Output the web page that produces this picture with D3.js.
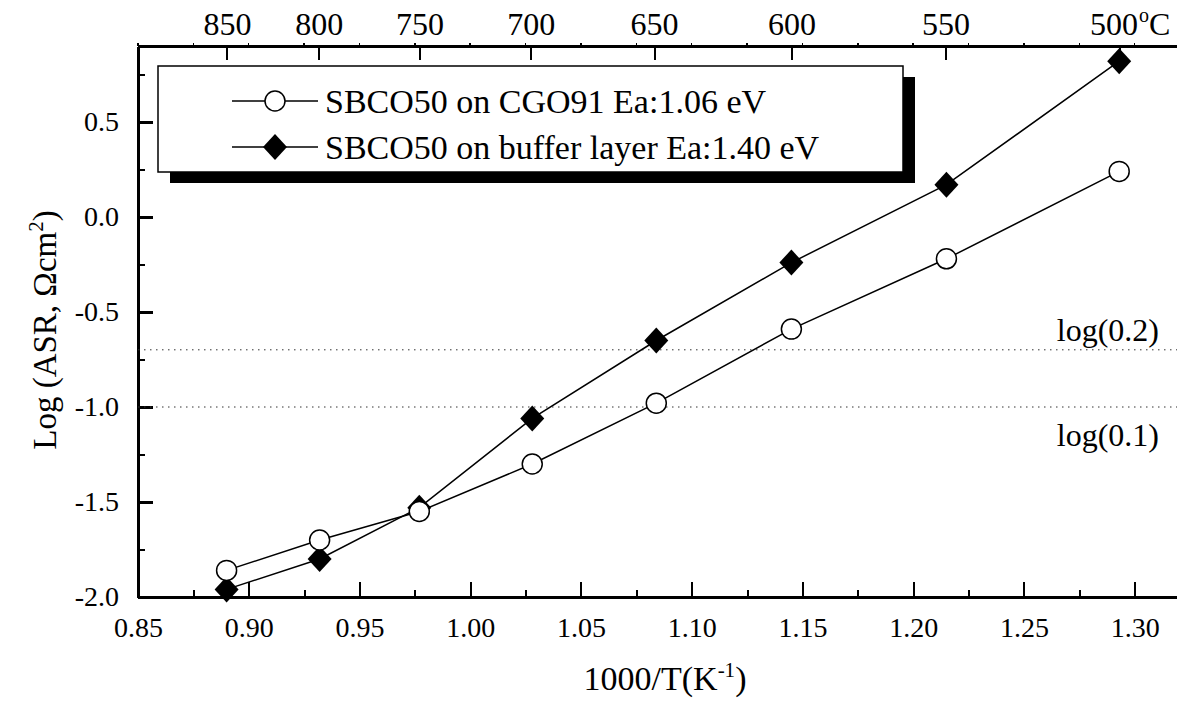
<!DOCTYPE html>
<html lang="en">
<head>
<meta charset="utf-8">
<title>ASR Arrhenius plot</title>
<style>
body{
  margin: 0;
  background: #fff;
}
svg text{
  font-family: "Liberation Serif", "Times New Roman", serif;
  fill: #000;
}
.axis path, .axis line{
  fill: none;
  stroke: #000;
  shape-rendering: crispEdges;
}
</style>
<script src="https://cdn.jsdelivr.net/npm/d3@7/dist/d3.min.js"></script>
</head>
<body>
<div id="chart"></div>

<script>
// data
var xVals = [0.890, 0.932, 0.977, 1.028, 1.084, 1.145, 1.215, 1.293];
var cgoVals = [-1.86, -1.70, -1.55, -1.30, -0.98, -0.59, -0.22, 0.24];
var bufferVals = [-1.96, -1.80, -1.53, -1.06, -0.65, -0.24, 0.17, 0.82];
var seriesNames = ['SBCO50 on CGO91 Ea:1.06 eV', 'SBCO50 on buffer layer Ea:1.40 eV'];

var xTicks = [0.85, 0.90, 0.95, 1.00, 1.05, 1.10, 1.15, 1.20, 1.25, 1.30];
var yTicks = [-2.0, -1.5, -1.0, -0.5, 0.0, 0.5];
var tempTicks = [850, 800, 750, 700, 650, 600, 550, 500];
var refLines = [Math.log10(0.2), Math.log10(0.1)];
var refLabels = ['log(0.2)', 'log(0.1)'];

var W = 1177, H = 707;
var margin = { top: 46, right: 0, bottom: 110, left: 138 };
var width = W - margin.left - margin.right,
    height = H - margin.top - margin.bottom;

var xScale = d3.scaleLinear().domain([0.85, 1.3191]).range([0, width]);
var yScale = d3.scaleLinear().domain([-2.0, 0.9]).range([height, 0]);

var fmtY = function(d) { return d3.format('.1f')(d).replace('\u2212', '-'); };

var svg = d3.select('#chart').append('svg')
  .attr('width', W)
  .attr('height', H);

var graph = svg.append('g')
  .attr('transform', 'translate(' + margin.left + ',' + margin.top + ')');

// minor ticks (between majors)
var xMinor = xTicks.map(function(d) { return d + 0.025; }).filter(function(d) { return d < 1.319; });
var yMinor = yTicks.map(function(d) { return d + 0.25; });

// bottom axis
graph.append('g')
  .attr('class', 'axis')
  .attr('transform', 'translate(0,' + height + ')')
  .call(d3.axisBottom(xScale).tickValues(xMinor).tickSize(-7).tickSizeOuter(0).tickFormat(''))
  .call(function(g) { g.select('.domain').remove(); g.selectAll('line').attr('stroke-width', 2); });

graph.append('g')
  .attr('class', 'axis')
  .attr('transform', 'translate(0,' + height + ')')
  .call(d3.axisBottom(xScale).tickValues(xTicks).tickSize(-15).tickSizeOuter(0).tickPadding(20)
    .tickFormat(d3.format('.2f')))
  .call(function(g) {
    g.select('.domain').attr('stroke-width', 3);
    g.selectAll('line').attr('stroke-width', 2);
    g.selectAll('text').style('font-size', '28px').attr('font-family', null);
  });

// left axis
graph.append('g')
  .attr('class', 'axis')
  .call(d3.axisLeft(yScale).tickValues(yMinor).tickSize(-7).tickSizeOuter(0).tickFormat(''))
  .call(function(g) { g.select('.domain').remove(); g.selectAll('line').attr('stroke-width', 2.5); });

graph.append('g')
  .attr('class', 'axis')
  .call(d3.axisLeft(yScale).tickValues(yTicks).tickSize(-15).tickSizeOuter(0).tickPadding(19)
    .tickFormat(fmtY))
  .call(function(g) {
    g.select('.domain').attr('stroke-width', 3);
    g.selectAll('line').attr('stroke-width', 2.5);
    g.selectAll('text').style('font-size', '28px').attr('font-family', null);
  });

// top axis: temperature in degrees C, placed at 1000/T(K)
function tPos(t) { return xScale(1000 / (t + 273.15)); }

var topAxis = graph.append('g').attr('class', 'axis');
topAxis.append('line')
  .attr('x1', 0).attr('x2', width).attr('y1', 0).attr('y2', 0)
  .attr('stroke-width', 3);
topAxis.selectAll('.outer')
  .data(xTicks.concat(xMinor))
  .enter().append('line')
  .attr('x1', function(d) { return xScale(d); })
  .attr('x2', function(d) { return xScale(d); })
  .attr('y1', 0).attr('y2', -3)
  .attr('stroke-width', 1.5);
topAxis.selectAll('.temp')
  .data(tempTicks)
  .enter().append('line')
  .attr('x1', tPos).attr('x2', tPos)
  .attr('y1', 0).attr('y2', 14)
  .attr('stroke-width', 2);
topAxis.selectAll('text')
  .data(tempTicks)
  .enter().append('text')
  .attr('x', function(d) { return tPos(d) - (d == 500 ? 6 : 0); })
  .attr('y', -11)
  .attr('text-anchor', 'middle')
  .style('font-size', '32px')
  .text(function(d) { return d; });
topAxis.append('text')
  .attr('x', tPos(500) + 19)
  .attr('y', -11)
  .style('font-size', '32px')
  .call(function(t) {
    t.append('tspan').attr('dy', -13).style('font-size', '20px').text('o');
    t.append('tspan').attr('dy', 13).text('C');
  });

// reference lines
graph.selectAll('.ref')
  .data(refLines)
  .enter().append('line')
  .attr('x1', 0).attr('x2', width)
  .attr('y1', function(d) { return yScale(d); })
  .attr('y2', function(d) { return yScale(d); })
  .attr('stroke', '#333')
  .attr('stroke-width', 1)
  .attr('stroke-dasharray', '1.5,4.5');

graph.selectAll('.reflabel')
  .data(refLabels)
  .enter().append('text')
  .attr('x', width - 18)
  .attr('y', function(d, i) { return yScale(refLines[i]) + (i == 0 ? -9 : 39); })
  .attr('text-anchor', 'end')
  .style('font-size', '32px')
  .text(function(d) { return d; });

// series
var line = d3.line()
  .x(function(d) { return xScale(d[0]); })
  .y(function(d) { return yScale(d[1]); });

var cgo = xVals.map(function(x, i) { return [x, cgoVals[i]]; });
var buf = xVals.map(function(x, i) { return [x, bufferVals[i]]; });

graph.append('path').datum(cgo).attr('d', line)
  .attr('fill', 'none').attr('stroke', '#000').attr('stroke-width', 1.5);
graph.append('path').datum(buf).attr('d', line)
  .attr('fill', 'none').attr('stroke', '#000').attr('stroke-width', 1.5);

var diamond = 'M0,-13L12,0L0,13L-12,0Z';

graph.selectAll('.dia')
  .data(buf)
  .enter().append('path')
  .attr('d', diamond)
  .attr('transform', function(d) { return 'translate(' + xScale(d[0]) + ',' + yScale(d[1]) + ')'; })
  .attr('fill', '#000');

graph.selectAll('.circ')
  .data(cgo)
  .enter().append('circle')
  .attr('cx', function(d) { return xScale(d[0]); })
  .attr('cy', function(d) { return yScale(d[1]); })
  .attr('r', 10)
  .attr('fill', '#fff')
  .attr('stroke', '#000')
  .attr('stroke-width', 1.5);

// legend
var lg = svg.append('g');
lg.append('rect')
  .attr('x', 170).attr('y', 77).attr('width', 745).attr('height', 106)
  .attr('fill', '#000');
lg.append('rect')
  .attr('x', 158).attr('y', 66).attr('width', 745).attr('height', 106)
  .attr('fill', '#fff').attr('stroke', '#000').attr('stroke-width', 1.5);

var rows = [101, 147];
rows.forEach(function(ry, i) {
  lg.append('line')
    .attr('x1', 232).attr('x2', 318).attr('y1', ry).attr('y2', ry)
    .attr('stroke', '#000').attr('stroke-width', 1.5);
  if (i == 0) {
    lg.append('circle').attr('cx', 275).attr('cy', ry).attr('r', 10)
      .attr('fill', '#fff').attr('stroke', '#000').attr('stroke-width', 1.5);
  } else {
    lg.append('path').attr('d', diamond)
      .attr('transform', 'translate(275,' + ry + ')').attr('fill', '#000');
  }
  lg.append('text')
    .attr('x', 325).attr('y', ry + 12)
    .style('font-size', '34px')
    .text(seriesNames[i]);
});

// axis titles
svg.append('text')
  .attr('x', 665).attr('y', 690)
  .attr('text-anchor', 'middle')
  .style('font-size', '34px')
  .call(function(t) {
    t.append('tspan').text('1000/T(K');
    t.append('tspan').attr('dy', -13).style('font-size', '21px').text('-1');
    t.append('tspan').attr('dy', 13).text(')');
  });

svg.append('text')
  .attr('transform', 'translate(56,330) rotate(-90)')
  .attr('text-anchor', 'middle')
  .style('font-size', '33px')
  .call(function(t) {
    t.append('tspan').text('Log (ASR, \u03A9cm');
    t.append('tspan').attr('dy', -13).style('font-size', '21px').text('2');
    t.append('tspan').attr('dy', 13).text(')');
  });
</script>
</body>
</html>
